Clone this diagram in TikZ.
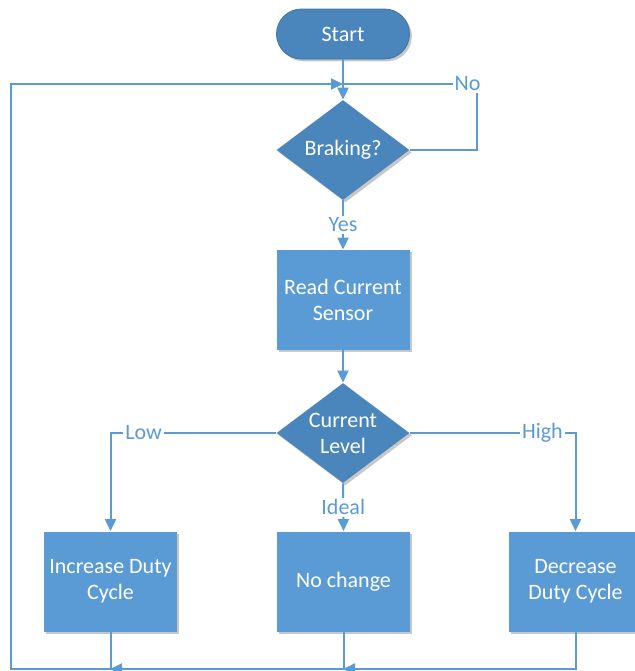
\documentclass[tikz,border=0pt]{standalone}
\usepackage{fontspec}
\setmainfont{Carlito}
\usetikzlibrary{shapes.geometric,arrows.meta,shadows}

\definecolor{flowline}{HTML}{5B9BD5}
\definecolor{flowdark}{HTML}{4A86BB}
\definecolor{flowbox}{HTML}{5B9BD5}

\tikzset{
    boxshadow/.style={drop shadow={shadow xshift=1.2pt, shadow yshift=-1.2pt,
        fill=black, opacity=0.22}},
    terminal/.style={rectangle, rounded corners=12.5pt, fill=flowdark,
        draw=flowdark!85!black, line width=0.4pt, boxshadow,
        minimum width=66.5pt, minimum height=25pt, text=white,
        font=\fontsize{11}{13}\selectfont},
    decision/.style={diamond, fill=flowdark, boxshadow, inner sep=0pt,
        minimum width=66.5pt, minimum height=50pt},
    dtext/.style={text=white, align=center, inner sep=0pt,
        font=\fontsize{11}{13}\selectfont},
    process/.style={rectangle, fill=flowbox, boxshadow, inner sep=0pt,
        minimum width=66.5pt, minimum height=50pt, text=white, align=center,
        font=\fontsize{11}{13}\selectfont},
    lbl/.style={fill=white, text=flowline, inner sep=1pt,
        font=\fontsize{11}{13}\selectfont},
    flow/.style={draw=flowline, line width=1pt}
}

\begin{document}
\begin{tikzpicture}[x=0.5pt,y=-0.5pt,>={Triangle[length=6pt,width=5.5pt]}]

    \useasboundingbox (0,0) rectangle (634,671);

    \node[terminal] (start) at (343,34) {Start};

    \node[decision, label={[dtext]center:Braking?}] (braking) at (343,150) {};

    \node[process] (read) at (343,300) {Read Current\\Sensor};

    \node[decision, label={[dtext]center:Current\\Level}] (level) at (343,433) {};

    \node[process] (increase) at (110.5,581.5) {Increase Duty\\Cycle};

    \node[process] (nochange) at (343.5,581.5) {No change};

    \node[process] (decrease) at (575.5,581.5) {Decrease\\Duty Cycle};

    \coordinate (join) at (343,84);
    \coordinate (nocorner) at (477,84);
    \coordinate (retcorner) at (11,669);
    \coordinate (retmid) at (343,669);
    \coordinate (retleft) at (110,669);

    \draw[flow,->] (start) -- (braking);

    \draw[flow] (braking.east) -| (nocorner)
        -- node[lbl, pos=0.07] {No} (join);

    \draw[flow,->] (braking) -- node[lbl] {Yes} (read);

    \draw[flow,->] (read) -- (level);

    \draw[flow,->] (level.west) -| node[lbl, pos=0.4] {Low} (increase.north);

    \draw[flow,->] (level.east) -| node[lbl, pos=0.4] {High} (decrease.north);

    \draw[flow,->] (level.south) -- node[lbl] {Ideal} (nochange.north);

    \draw[flow,->] (decrease.south) |- (retmid);

    \draw[flow,->] (nochange.south) |- (retleft);

    \draw[flow,->] (increase.south) |- (retcorner) |- (join);

\end{tikzpicture}
\end{document}
